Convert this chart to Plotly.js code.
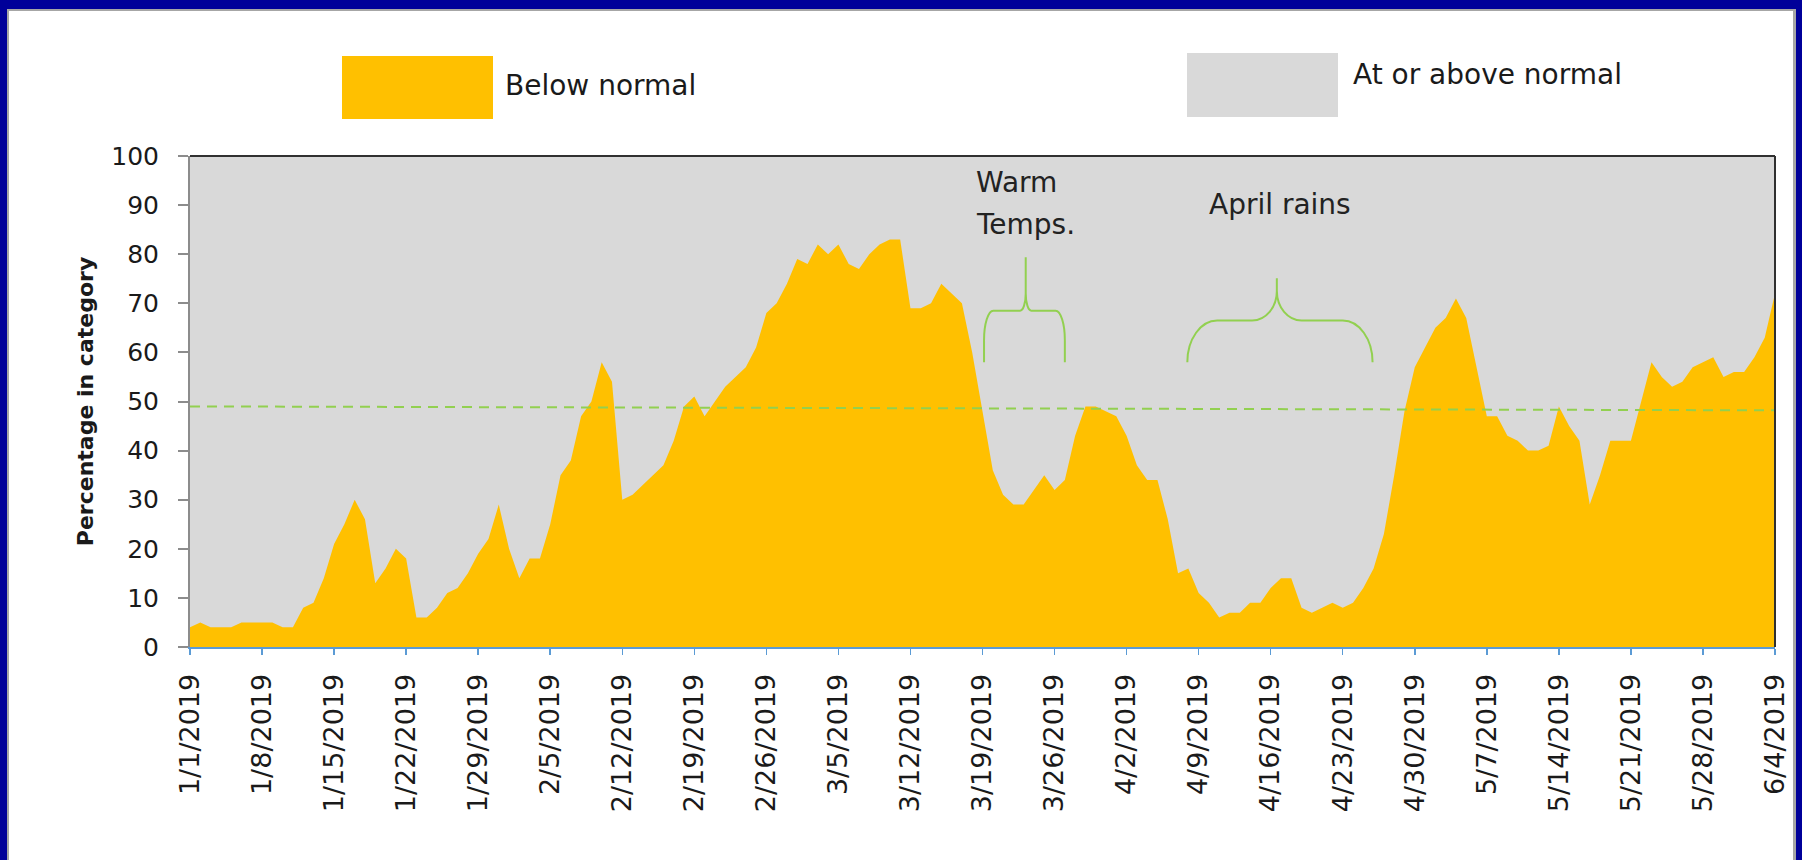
<!DOCTYPE html>
<html>
<head>
<meta charset="utf-8">
<script src="https://cdn.plot.ly/plotly-3.0.1.min.js"></script>
<style>
  html, body { margin: 0; padding: 0; background: #ffffff; }
  #chart { width: 1802px; height: 860px; }
</style>
</head>
<body>
<div id="chart"></div>
<script>
// ---- Data ----
const dates = [
  '2019-01-01','2019-01-02','2019-01-03','2019-01-04','2019-01-05','2019-01-06','2019-01-07','2019-01-08','2019-01-09','2019-01-10',
  '2019-01-11','2019-01-12','2019-01-13','2019-01-14','2019-01-15','2019-01-16','2019-01-17','2019-01-18','2019-01-19','2019-01-20',
  '2019-01-21','2019-01-22','2019-01-23','2019-01-24','2019-01-25','2019-01-26','2019-01-27','2019-01-28','2019-01-29','2019-01-30',
  '2019-01-31','2019-02-01','2019-02-02','2019-02-03','2019-02-04','2019-02-05','2019-02-06','2019-02-07','2019-02-08','2019-02-09',
  '2019-02-10','2019-02-11','2019-02-12','2019-02-13','2019-02-14','2019-02-15','2019-02-16','2019-02-17','2019-02-18','2019-02-19',
  '2019-02-20','2019-02-21','2019-02-22','2019-02-23','2019-02-24','2019-02-25','2019-02-26','2019-02-27','2019-02-28','2019-03-01',
  '2019-03-02','2019-03-03','2019-03-04','2019-03-05','2019-03-06','2019-03-07','2019-03-08','2019-03-09','2019-03-10','2019-03-11',
  '2019-03-12','2019-03-13','2019-03-14','2019-03-15','2019-03-16','2019-03-17','2019-03-18','2019-03-19','2019-03-20','2019-03-21',
  '2019-03-22','2019-03-23','2019-03-24','2019-03-25','2019-03-26','2019-03-27','2019-03-28','2019-03-29','2019-03-30','2019-03-31',
  '2019-04-01','2019-04-02','2019-04-03','2019-04-04','2019-04-05','2019-04-06','2019-04-07','2019-04-08','2019-04-09','2019-04-10',
  '2019-04-11','2019-04-12','2019-04-13','2019-04-14','2019-04-15','2019-04-16','2019-04-17','2019-04-18','2019-04-19','2019-04-20',
  '2019-04-21','2019-04-22','2019-04-23','2019-04-24','2019-04-25','2019-04-26','2019-04-27','2019-04-28','2019-04-29','2019-04-30',
  '2019-05-01','2019-05-02','2019-05-03','2019-05-04','2019-05-05','2019-05-06','2019-05-07','2019-05-08','2019-05-09','2019-05-10',
  '2019-05-11','2019-05-12','2019-05-13','2019-05-14','2019-05-15','2019-05-16','2019-05-17','2019-05-18','2019-05-19','2019-05-20',
  '2019-05-21','2019-05-22','2019-05-23','2019-05-24','2019-05-25','2019-05-26','2019-05-27','2019-05-28','2019-05-29','2019-05-30',
  '2019-05-31','2019-06-01','2019-06-02','2019-06-03','2019-06-04'
];

const belowNormal = [
   4,  5,  4,  4,  4,  5,  5,  5,  5,  4,
   4,  8,  9, 14, 21, 25, 30, 26, 13, 16,
  20, 18,  6,  6,  8, 11, 12, 15, 19, 22,
  29, 20, 14, 18, 18, 25, 35, 38, 47, 50,
  58, 54, 30, 31, 33, 35, 37, 42, 49, 51,
  47, 50, 53, 55, 57, 61, 68, 70, 74, 79,
  78, 82, 80, 82, 78, 77, 80, 82, 83, 83,
  69, 69, 70, 74, 72, 70, 60, 48, 36, 31,
  29, 29, 32, 35, 32, 34, 43, 49, 49, 48,
  47, 43, 37, 34, 34, 26, 15, 16, 11,  9,
   6,  7,  7,  9,  9, 12, 14, 14,  8,  7,
   8,  9,  8,  9, 12, 16, 23, 35, 48, 57,
  61, 65, 67, 71, 67, 57, 47, 47, 43, 42,
  40, 40, 41, 49, 45, 42, 29, 35, 42, 42,
  42, 50, 58, 55, 53, 54, 57, 58, 59, 55,
  56, 56, 59, 63, 72
];

// Dashed green reference (trend) line: end points
const trendDates  = ['2019-01-01', '2019-06-04'];
const trendValues = [49, 48.2];

// X tick positions and labels
const tickDates = [
  '2019-01-01','2019-01-08','2019-01-15','2019-01-22','2019-01-29','2019-02-05','2019-02-12','2019-02-19',
  '2019-02-26','2019-03-05','2019-03-12','2019-03-19','2019-03-26','2019-04-02','2019-04-09','2019-04-16',
  '2019-04-23','2019-04-30','2019-05-07','2019-05-14','2019-05-21','2019-05-28','2019-06-04'
];
const tickLabels = [
  '1/1/2019','1/8/2019','1/15/2019','1/22/2019','1/29/2019','2/5/2019','2/12/2019','2/19/2019',
  '2/26/2019','3/5/2019','3/12/2019','3/19/2019','3/26/2019','4/2/2019','4/9/2019','4/16/2019',
  '4/23/2019','4/30/2019','5/7/2019','5/14/2019','5/21/2019','5/28/2019','6/4/2019'
];

const seriesNames = ['Below normal', 'At or above normal'];
const yTitle = 'Percentage in category';

// ---- Styling ----
const ORANGE = '#FFC000';
const GRAY = '#D9D9D9';
const GREEN = '#92D050';
const BLUE_FRAME = '#000099';
const FONT = 'DejaVu Sans, Verdana, sans-serif';

// ---- Geometry helpers (plot area in pixels) ----
const W = 1802, H = 860;
const M = {l: 190, r: 27, t: 156, b: 213};
const PW = W - M.l - M.r, PH = H - M.t - M.b;
const px2x = p => (p - M.l) / PW;   // pixel -> paper x
const py2y = p => (H - M.b - p) / PH; // pixel -> paper y
const NDAYS = dates.length - 1;
const dayX = d => d / NDAYS;         // day offset -> paper x

// Curly brace path (x in paper, y in data units)
function bracePath(xL, xC, xR, y0, y1, y2, rxc, ryc, rxm, rym) {
  const k = 0.552;
  const f = v => v.toFixed(5);
  return [
    'M', f(xL), f(y0),
    'L', f(xL), f(y1 - ryc),
    'C', f(xL), f(y1 - ryc + k * ryc), f(xL + rxc - k * rxc), f(y1), f(xL + rxc), f(y1),
    'L', f(xC - rxm), f(y1),
    'C', f(xC - rxm + k * rxm), f(y1), f(xC), f(y1 + rym - k * rym), f(xC), f(y1 + rym),
    'L', f(xC), f(y2),
    'M', f(xC), f(y1 + rym),
    'C', f(xC), f(y1 + rym - k * rym), f(xC + rxm - k * rxm), f(y1), f(xC + rxm), f(y1),
    'L', f(xR - rxc), f(y1),
    'C', f(xR - rxc + k * rxc), f(y1), f(xR), f(y1 - ryc + k * ryc), f(xR), f(y1 - ryc),
    'L', f(xR), f(y0)
  ].join(' ');
}

const warmBrace = bracePath(dayX(77.15), dayX(81.2), dayX(85.0), 58, 68.5, 79.4,
                            dayX(0.9), 6, dayX(0.55), 3.5);
const aprilBrace = bracePath(dayX(96.9), dayX(105.6), dayX(114.9), 58, 66.5, 75.1,
                             dayX(2.9), 8.5, dayX(2.4), 6.0);

const traces = [
  {
    type: 'scatter', mode: 'lines', name: seriesNames[0],
    x: dates, y: belowNormal,
    line: {width: 0, color: ORANGE},
    fill: 'tozeroy', fillcolor: ORANGE,
    hoverinfo: 'x+y'
  },
  {
    type: 'scatter', mode: 'lines', name: 'Trend',
    x: trendDates, y: trendValues,
    line: {color: GREEN, width: 2, dash: '10px,7px'},
    hoverinfo: 'skip'
  }
];

const frameTop = py2y(0), frameBottom = py2y(H);

const shapes = [
  // plot-area border: top and right (dark)
  {type: 'line', xref: 'paper', yref: 'paper', x0: 0, x1: 1, y0: 1, y1: 1, line: {color: '#303030', width: 2}},
  {type: 'line', xref: 'paper', yref: 'paper', x0: 1, x1: 1, y0: 0, y1: 1, line: {color: '#303030', width: 2}},
  // braces
  {type: 'path', xref: 'paper', yref: 'y', path: warmBrace, line: {color: GREEN, width: 2}, fillcolor: 'rgba(0,0,0,0)', layer: 'above'},
  {type: 'path', xref: 'paper', yref: 'y', path: aprilBrace, line: {color: GREEN, width: 2}, fillcolor: 'rgba(0,0,0,0)', layer: 'above'},
  // legend swatches
  {type: 'rect', xref: 'paper', yref: 'paper', x0: px2x(342), x1: px2x(493), y0: py2y(119), y1: py2y(56),
   fillcolor: ORANGE, line: {width: 0}},
  {type: 'rect', xref: 'paper', yref: 'paper', x0: px2x(1187), x1: px2x(1338), y0: py2y(117), y1: py2y(53),
   fillcolor: GRAY, line: {width: 0}},
  // outer blue frame (left, right, top) with thin gray separators
  {type: 'rect', xref: 'paper', yref: 'paper', x0: px2x(0), x1: px2x(7), y0: frameBottom, y1: frameTop, fillcolor: BLUE_FRAME, line: {width: 0}},
  {type: 'rect', xref: 'paper', yref: 'paper', x0: px2x(7), x1: px2x(9), y0: frameBottom, y1: py2y(9), fillcolor: '#A6A6A6', line: {width: 0}},
  {type: 'rect', xref: 'paper', yref: 'paper', x0: px2x(1796), x1: px2x(1802), y0: frameBottom, y1: frameTop, fillcolor: BLUE_FRAME, line: {width: 0}},
  {type: 'rect', xref: 'paper', yref: 'paper', x0: px2x(1793), x1: px2x(1796), y0: frameBottom, y1: py2y(9), fillcolor: '#A6A6A6', line: {width: 0}},
  {type: 'rect', xref: 'paper', yref: 'paper', x0: px2x(0), x1: px2x(1802), y0: py2y(9), y1: frameTop, fillcolor: BLUE_FRAME, line: {width: 0}},
  {type: 'rect', xref: 'paper', yref: 'paper', x0: px2x(9), x1: px2x(1793), y0: py2y(11), y1: py2y(9), fillcolor: '#A6A6A6', line: {width: 0}}
];

const annFont = {family: FONT, size: 28, color: '#222222'};
const legFont = {family: FONT, size: 28, color: '#1a1a1a'};

const annotations = [
  {xref: 'paper', yref: 'paper', x: px2x(503), y: py2y(86), xanchor: 'left', yanchor: 'middle',
   text: seriesNames[0], showarrow: false, font: legFont},
  {xref: 'paper', yref: 'paper', x: px2x(1351), y: py2y(75), xanchor: 'left', yanchor: 'middle',
   text: seriesNames[1], showarrow: false, font: legFont},
  {xref: 'paper', yref: 'y', x: px2x(974), y: 94.6, xanchor: 'left', yanchor: 'middle',
   text: 'Warm', showarrow: false, font: annFont},
  {xref: 'paper', yref: 'y', x: px2x(974), y: 86.0, xanchor: 'left', yanchor: 'middle',
   text: 'Temps.', showarrow: false, font: annFont},
  {xref: 'paper', yref: 'y', x: px2x(1207), y: 90.2, xanchor: 'left', yanchor: 'middle',
   text: 'April rains', showarrow: false, font: annFont}
];

const layout = {
  width: W, height: H,
  margin: M,
  paper_bgcolor: '#ffffff',
  plot_bgcolor: GRAY,
  showlegend: false,
  xaxis: {
    type: 'date',
    range: [dates[0], dates[dates.length - 1]],
    tickmode: 'array', tickvals: tickDates, ticktext: tickLabels,
    tickangle: -90,
    ticks: 'outside', ticklen: 6, tickwidth: 1.5, tickcolor: '#5B9BD5',
    ticklabelstandoff: 8,
    showline: true, linecolor: '#5B9BD5', linewidth: 2,
    showgrid: false, zeroline: false,
    tickfont: {family: FONT, size: 27, color: '#1a1a1a'}
  },
  yaxis: {
    range: [0, 100],
    tickmode: 'linear', tick0: 0, dtick: 10,
    ticks: 'outside', ticklen: 10, tickwidth: 2, tickcolor: '#8C8C8C',
    ticklabelstandoff: 14,
    showline: true, linecolor: '#8C8C8C', linewidth: 2,
    showgrid: false, zeroline: false,
    tickfont: {family: FONT, size: 25, color: '#1a1a1a'},
    title: {text: yTitle, font: {family: FONT, size: 22, weight: 'bold', color: '#1a1a1a'}, standoff: 12}
  },
  shapes: shapes,
  annotations: annotations
};

Plotly.newPlot('chart', traces, layout, {displayModeBar: false, staticPlot: true});
</script>
</body>
</html>
